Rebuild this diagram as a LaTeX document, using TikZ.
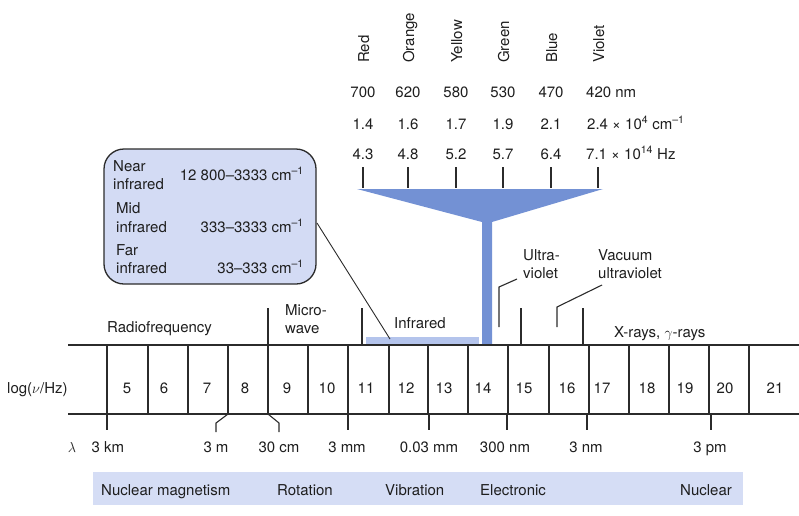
\documentclass[tikz,border=0pt]{standalone}
\usepackage{fontspec}
\setmainfont{TeX Gyre Heros}
\definecolor{lineC}{HTML}{2B2B2B}
\definecolor{txtC}{HTML}{1E1E1E}
\definecolor{pillarC}{HTML}{7391D4}
\definecolor{irbarC}{HTML}{B4C4EC}
\definecolor{boxC}{HTML}{D3DBF4}
\definecolor{bandC}{HTML}{D5DDF5}
\newcommand\myfs{\fontsize{15}{18}\selectfont}
\newcommand\supm[1]{\textsuperscript{#1}}
\begin{document}
\begin{tikzpicture}[x=1pt,y=-1pt,
  lab/.style={inner sep=0pt, anchor=base west, font=\myfs, text=txtC},
  labc/.style={inner sep=0pt, anchor=base, font=\myfs, text=txtC},
  labr/.style={inner sep=0pt, anchor=base east, font=\myfs, text=txtC},
  vlab/.style={inner sep=0pt, anchor=base west, rotate=90, font=\myfs, text=txtC},
  ln/.style={draw=lineC, line width=1.1pt},
  tk/.style={draw=lineC, line width=1.1pt}]
\useasboundingbox (0,0) rectangle (799,515);

% colour names
\foreach \x/\t/\n in {363/Red/cR,408/Orange/cO,456/Yellow/cY,503/Green/cG,551/Blue/cB,598/Violet/cV}{
  \node[vlab] (\n) at (\x+6,63) {\t};
  \coordinate (\n t) at (\x,167);
  \coordinate (\n b) at (\x,188);
  \draw[tk] (\n t) -- (\n b);
}
% rows
\foreach \x/\a/\b/\c/\n in {363/700/1.4/4.3/r1,408/620/1.6/4.8/r2,456/580/1.7/5.2/r3,503/530/1.9/5.7/r4,551/470/2.1/6.4/r5}{
  \node[labc] (\n a) at (\x,97) {\a};
  \node[labc] (\n b) at (\x,129) {\b};
  \node[labc] (\n c) at (\x,159) {\c};
}
\node[lab] (r6a) at (586,97) {420 nm};
\node[lab] (r6b) at (587,129) {2.4 × 10\supm{4} cm\supm{–1}};
\node[lab] (r6c) at (586,159) {7.1 × 10\supm{14} Hz};

% funnel and pillar
\fill[pillarC] (357,189) -- (603,189) -- (492,222) -- (492,345) -- (482,345) -- (482,222) -- cycle;

% infrared box
\node[draw=lineC, line width=1.3pt, fill=boxC, rounded corners=20pt, minimum width=212pt, minimum height=135pt, inner sep=0pt] (irbox) at (210,216.5) {};
\node[lab] (nr1) at (113,171) {Near};
\node[lab] (nr2) at (113,189) {infrared};
\node[labr] (nrv) at (304,180) {12 800–3333 cm\supm{–1}};
\node[lab] (md1) at (116,213) {Mid};
\node[lab] (md2) at (116,232) {infrared};
\node[labr] (mdv) at (304,232) {333–3333 cm\supm{–1}};
\node[lab] (fr1) at (116,255) {Far};
\node[lab] (fr2) at (116,273) {infrared};
\node[labr] (frv) at (304,273) {33–333 cm\supm{–1}};

% infrared bar
\fill[irbarC] (366,337) rectangle (479,345);
\coordinate (irpt) at (390,339);
\coordinate (boxpt) at (317,223);
\draw[draw=lineC, line width=0.9pt] (boxpt) -- (irpt);

% region labels
\node[lab] (radio) at (107,332) {Radiofrequency};
\node[lab] (mw1) at (285,315) {Micro-};
\node[lab] (mw2) at (285,333) {wave};
\node[lab] (ir) at (394,328) {Infrared};
\node[lab] (uv1) at (523,260) {Ultra-};
\node[lab] (uv2) at (523,278) {violet};
\node[lab] (vuv1) at (598,260) {Vacuum};
\node[lab] (vuv2) at (598,278) {ultraviolet};
\node[lab] (xr) at (614,337) {X-rays, $\gamma$-rays};

% boundary lines above band
\foreach \x in {268,362,521,583}{\draw[ln] (\x,308) -- (\x,345);}
\coordinate (uva) at (517,279); \coordinate (uvb) at (499,287); \coordinate (uvc) at (499,327);
\draw[ln] (uva) -- (uvb) -- (uvc);
\coordinate (vua) at (602,285); \coordinate (vub) at (557,307); \coordinate (vuc) at (557,327);
\draw[ln] (vua) -- (vub) -- (vuc);

% band
\coordinate (bandTL) at (68,345); \coordinate (bandTR) at (799,345);
\coordinate (bandBL) at (68,414); \coordinate (bandBR) at (799,414);
\draw[ln] (bandTL) -- (bandTR);
\draw[ln] (bandBL) -- (bandBR);
\foreach \x in {107,148,188,228,268,308,348,389,428,468,508,549,589,629,669,709,749}{
  \draw[ln] (\x,345) -- (\x,414);
}
\node[lab] (logl) at (7,393) {log($\nu$/Hz)};
\foreach \x/\t in {127/5,164/6,207/7,245/8,287/9,327/10,366/11,406/12,444/13,483/14,524/15,567/16,602/17,647/18,685/19,725/20,775/21}{
  \node[labc] (n\t) at (\x,393) {\t};
}

% wavelength ticks
\foreach \x in {107,348,429,507,587,711}{\draw[ln] (\x,414) -- (\x,430);}
\draw[ln] (228,414) -- (216,423) -- (216,432);
\draw[ln] (268,414) -- (279,423) -- (279,432);
\node[labc] (lam) at (72,452) {$\lambda$};
\foreach \x/\t/\n in {108/3 km/w1,216/3 m/w2,279/30 cm/w3,347/3 mm/w4,429/0.03 mm/w5,505/300 nm/w6,586/3 nm/w7,710/3 pm/w8}{
  \node[labc] (\n) at (\x,452) {\t};
}

% bottom band
\fill[bandC] (93,472) rectangle (743,505);
\node[lab] (b1) at (101,495) {Nuclear magnetism};
\node[lab] (b2) at (277,495) {Rotation};
\node[lab] (b3) at (385,495) {Vibration};
\node[lab] (b4) at (480,495) {Electronic};
\node[lab] (b5) at (680,495) {Nuclear};
\end{tikzpicture}
\end{document}
